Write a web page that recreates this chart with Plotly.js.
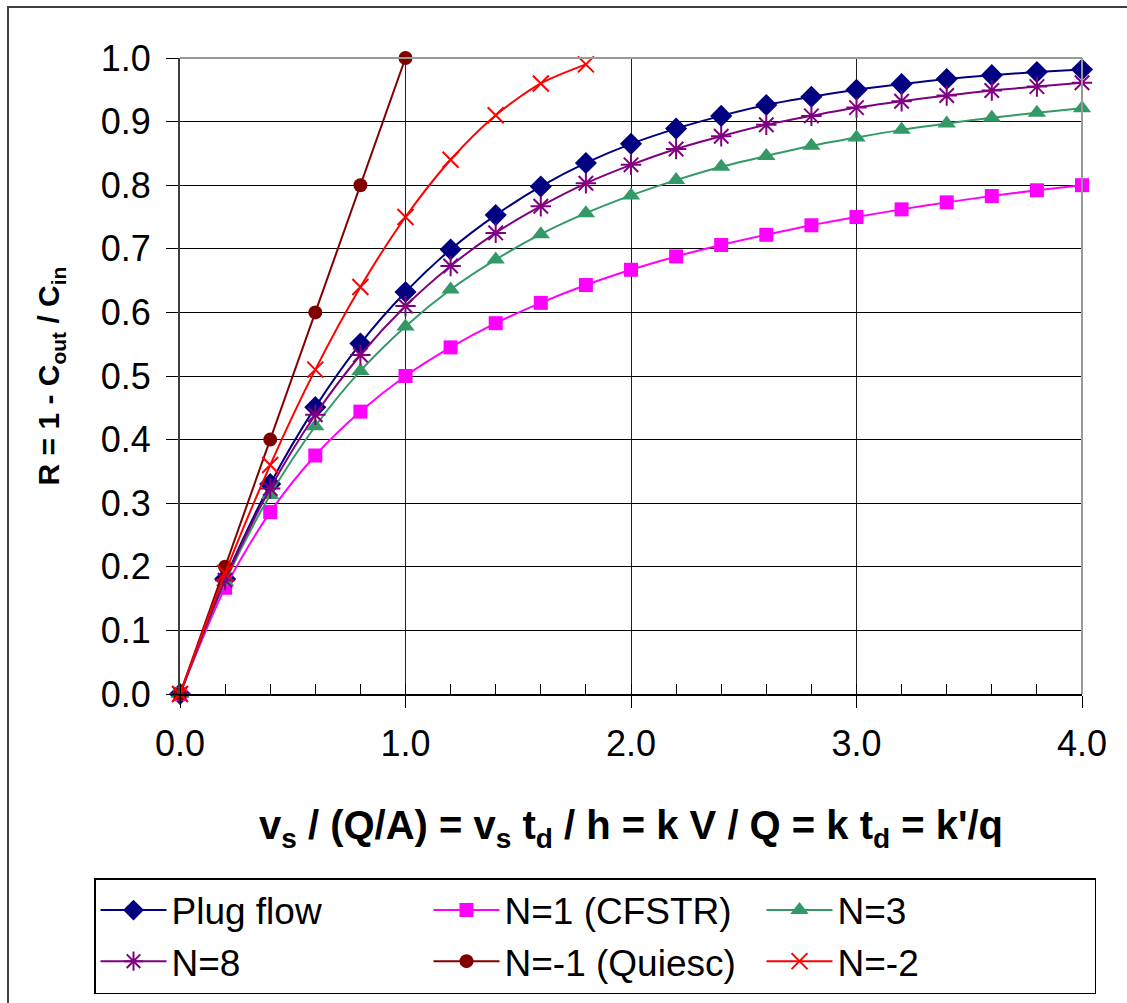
<!DOCTYPE html>
<html>
<head>
<meta charset="utf-8">
<script src="https://cdn.plot.ly/plotly-3.0.1.min.js"></script>
<style>
  html, body { margin: 0; padding: 0; background: #fff; }
  #frame { position: absolute; left: 7px; top: 6px; width: 1200px; height: 1100px; border: 2px solid #404040; box-sizing: border-box; pointer-events: none; z-index: 10; }
  #chart { position: absolute; left: 0; top: 0; width: 1127px; height: 1003px; }
</style>
</head>
<body>
<div id="chart"></div>
<div id="frame"></div>
<script>
// x values (dimensionless settling / reaction parameter)
const xFull = [0, 0.2, 0.4, 0.6, 0.8, 1.0, 1.2, 1.4, 1.6, 1.8, 2.0, 2.2, 2.4, 2.6, 2.8, 3.0, 3.2, 3.4, 3.6, 3.8, 4.0];
const xQuiesc = [0, 0.2, 0.4, 0.6, 0.8, 1.0];
const xNm2 = [0, 0.2, 0.4, 0.6, 0.8, 1.0, 1.2, 1.4, 1.6, 1.8];

// series values
const plugFlow = [0, 0.181, 0.330, 0.451, 0.551, 0.632, 0.699, 0.753, 0.798, 0.835, 0.865, 0.889, 0.909, 0.926, 0.939, 0.950, 0.959, 0.967, 0.973, 0.978, 0.982];
const n1CFSTR  = [0, 0.167, 0.286, 0.375, 0.444, 0.500, 0.545, 0.583, 0.615, 0.643, 0.667, 0.688, 0.706, 0.722, 0.737, 0.750, 0.762, 0.773, 0.783, 0.792, 0.800];
const n3       = [0, 0.176, 0.313, 0.421, 0.508, 0.578, 0.636, 0.683, 0.723, 0.756, 0.784, 0.808, 0.829, 0.846, 0.862, 0.875, 0.887, 0.897, 0.906, 0.914, 0.921];
const n8       = [0, 0.179, 0.323, 0.439, 0.533, 0.610, 0.673, 0.725, 0.767, 0.803, 0.832, 0.857, 0.877, 0.895, 0.909, 0.922, 0.932, 0.941, 0.949, 0.955, 0.961];
const nm1Quiesc = [0, 0.2, 0.4, 0.6, 0.8, 1.0];
const nm2      = [0, 0.19, 0.36, 0.51, 0.64, 0.75, 0.84, 0.91, 0.96, 0.99];

const seriesNames = ['Plug flow', 'N=1 (CFSTR)', 'N=3', 'N=8', 'N=-1 (Quiesc)', 'N=-2'];
const yTickVals = [0, 0.1, 0.2, 0.3, 0.4, 0.5, 0.6, 0.7, 0.8, 0.9, 1.0];
const yTickText = ['0.0', '0.1', '0.2', '0.3', '0.4', '0.5', '0.6', '0.7', '0.8', '0.9', '1.0'];
const xTickVals = [0, 1, 2, 3, 4];
const xTickText = ['0.0', '1.0', '2.0', '3.0', '4.0'];

function tr(x, y, name, color, symbol, size, shape, lineOnly) {
  const m = { color: color, size: size, symbol: symbol };
  if (lineOnly) m.line = { color: color, width: 2 };
  return {
    x: x, y: y, name: name, type: 'scatter', mode: 'lines+markers',
    line: { color: color, width: 2, shape: shape, smoothing: 0.8 },
    marker: m, cliponaxis: false
  };
}

const data = [
  tr(xFull, plugFlow, seriesNames[0], '#000080', 'diamond', 17, 'spline'),
  tr(xFull, n1CFSTR, seriesNames[1], '#FF00FF', 'square', 14, 'spline'),
  tr(xFull, n3, seriesNames[2], '#339966', 'triangle-up', 16, 'spline'),
  tr(xFull, n8, seriesNames[3], '#800080', 'asterisk-open', 17, 'spline', true),
  tr(xQuiesc, nm1Quiesc, seriesNames[4], '#800000', 'circle', 14, 'linear'),
  tr(xNm2, nm2, seriesNames[5], '#FF0000', 'x-thin-open', 16, 'spline', true)
];

const ml = 180, mr = 45, mt = 58, mb = 309;
const W = 1127, H = 1003;
const pw = W - ml - mr, ph = H - mt - mb;

const layout = {
  width: W, height: H,
  margin: { l: ml, r: mr, t: mt, b: mb, pad: 0, autoexpand: false },
  paper_bgcolor: '#ffffff', plot_bgcolor: '#ffffff',
  font: { family: 'Arial, Liberation Sans, sans-serif', color: '#000000' },
  showlegend: true,
  xaxis: {
    range: [0, 4], autorange: false, fixedrange: true,
    tickvals: xTickVals, ticktext: xTickText,
    ticks: 'outside', ticklen: 12, tickwidth: 1, tickcolor: '#000',
    tickfont: { size: 36, family: 'Arial, Liberation Sans, sans-serif' },
    ticklabelstandoff: 5,
    showgrid: true, gridcolor: '#202020', gridwidth: 1,
    showline: true, linecolor: '#000', linewidth: 2, mirror: false,
    zeroline: false,
    minor: { dtick: 0.2, tick0: 0, ticks: 'inside', ticklen: 10, tickwidth: 1, tickcolor: '#000', showgrid: false },
    title: {
      text: '<b>v<sub>s</sub> / (Q/A) = v<sub>s</sub> t<sub>d</sub> / h = k V / Q = k t<sub>d</sub> = k\'/q</b>',
      font: { size: 40, family: 'Arial, Liberation Sans, sans-serif' },
      standoff: 48
    }
  },
  yaxis: {
    range: [0, 1], autorange: false, fixedrange: true,
    tickvals: yTickVals, ticktext: yTickText,
    ticks: 'outside', ticklen: 12, tickwidth: 1, tickcolor: '#000',
    tickfont: { size: 36, family: 'Arial, Liberation Sans, sans-serif' },
    ticklabelstandoff: 8,
    showgrid: true, gridcolor: '#000000', gridwidth: 1,
    showline: true, linecolor: '#404040', linewidth: 2,
    zeroline: false,
    title: {
      text: '<b>R = 1 - C<sub>out</sub> / C<sub>in</sub></b>',
      font: { size: 30, family: 'Arial, Liberation Sans, sans-serif' },
      standoff: 32
    }
  },
  shapes: [
    { type: 'line', xref: 'paper', yref: 'paper', x0: 0, x1: 1, y0: 1, y1: 1, line: { color: '#999999', width: 2 } },
    { type: 'line', xref: 'paper', yref: 'paper', x0: 1, x1: 1, y0: 0, y1: 1, line: { color: '#999999', width: 2 } }
  ],
  legend: {
    orientation: 'h',
    xref: 'paper', yref: 'paper',
    x: (94 - ml) / pw, xanchor: 'left',
    y: (H - mb - 878) / ph, yanchor: 'top',
    entrywidth: 252, entrywidthmode: 'pixels',
    font: { size: 37, family: 'Arial, Liberation Sans, sans-serif', color: '#000' },
    bgcolor: '#ffffff', bordercolor: '#000000', borderwidth: 1.5,
    itemwidth: 66, traceorder: 'normal'
  }
};

Plotly.newPlot('chart', data, layout, { displayModeBar: false, staticPlot: true });
</script>
</body>
</html>
